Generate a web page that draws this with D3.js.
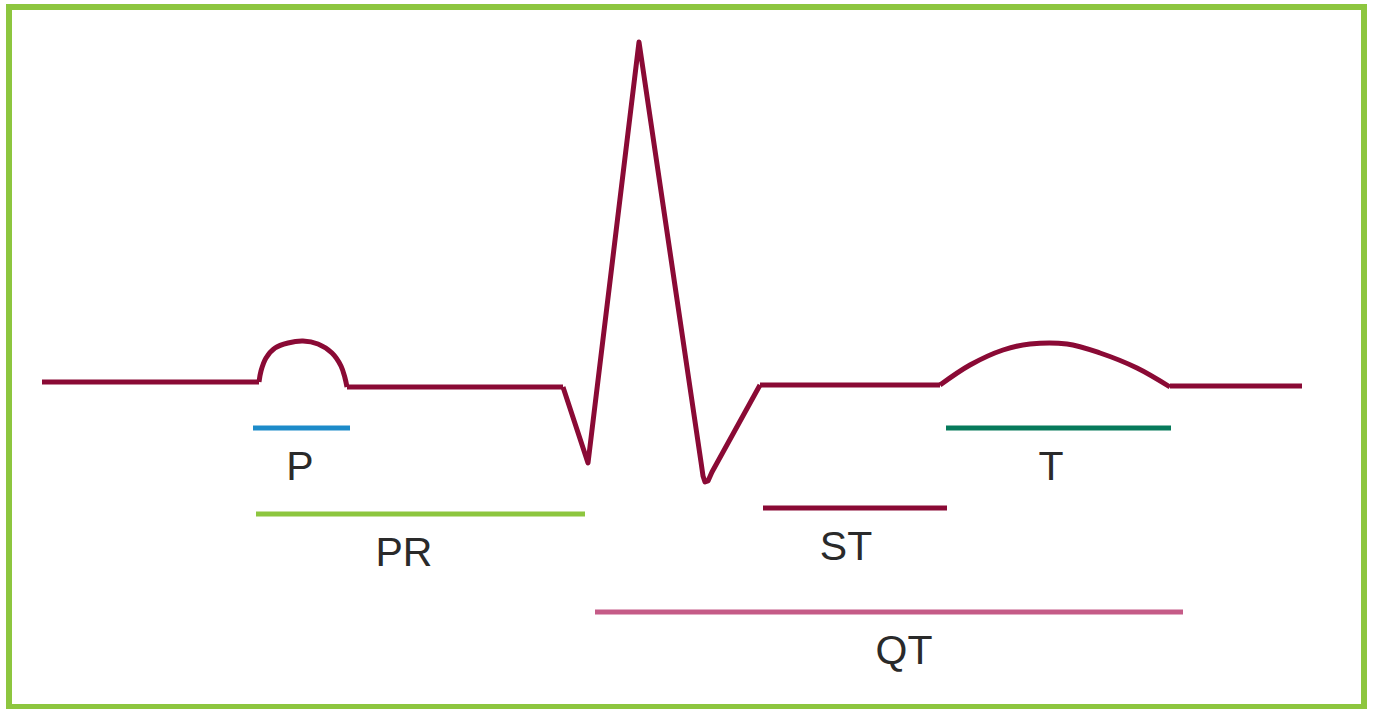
<!DOCTYPE html>
<html>
<head>
<meta charset="utf-8">
<script src="https://cdn.jsdelivr.net/npm/d3@7"></script>
<style>
  html, body { margin: 0; padding: 0; background: #fff; }
  svg { display: block; }
</style>
</head>
<body>
<svg id="chart" width="1373" height="709"></svg>
<script>
// ---- Data (time units along x, amplitude units above baseline) ----
const leadIn     = [[0, 3], [217, 3]];
const pWave      = [[217, 3], [219, 14], [224, 27], [233, 37], [246, 42], [261, 44], [276, 41], [290, 32], [299, 19], [303, 7], [305, -2]];
const prSegment  = [[305, -2], [521, -2]];
const qrsComplex = [[521, -2], [546, -78], [597, 343], [659, -77], [661, -91], [663, -97], [666, -96], [670, -87], [718, 0]];
const stSegment  = [[718, 0], [898, 0]];
const tWave      = [[898, 0], [928, 20], [961, 35], [988, 41], [1025, 41], [1058, 32], [1095, 17], [1128, -2]];
const tail       = [[1128, -1], [1260, -1]];

const intervalNames  = ["P", "PR", "T", "ST", "QT"];
const intervalStart  = [211, 214, 904, 721, 553];
const intervalEnd    = [308, 543, 1129, 905, 1141];
const intervalLevel  = [-43, -129, -43, -123, -227];
const labelCenter    = [258, 362, 1009, 804, 862];

// ---- Styles ----
const ecgColor = "#8a0a35";
const intervalColors = ["#1d8bc9", "#8dc63f", "#067a5b", "#8a0a35", "#c55b87"];

const svg = d3.select("#chart");
const W = 1373, H = 709;

// border
svg.append("rect")
  .attr("x", 9).attr("y", 7)
  .attr("width", W - 18).attr("height", H - 9)
  .attr("fill", "#fff")
  .attr("stroke", "#8dc63f")
  .attr("stroke-width", 6);

const x = d3.scaleLinear().domain([0, 1260]).range([42, 1302]);
const y = d3.scaleLinear().domain([-100, 345]).range([485, 40]);

const lineLin = d3.line().x(d => x(d[0])).y(d => y(d[1])).curve(d3.curveLinear);
const lineSmooth = d3.line().x(d => x(d[0])).y(d => y(d[1])).curve(d3.curveCatmullRom.alpha(0.5));

const g = svg.append("g");

// intervals
intervalNames.forEach((name, i) => {
  g.append("line")
    .attr("x1", x(intervalStart[i])).attr("x2", x(intervalEnd[i]))
    .attr("y1", y(intervalLevel[i])).attr("y2", y(intervalLevel[i]))
    .attr("stroke", intervalColors[i])
    .attr("stroke-width", 5);
  g.append("text")
    .attr("x", x(labelCenter[i]))
    .attr("y", y(intervalLevel[i]) + 52)
    .attr("text-anchor", "middle")
    .attr("font-family", "'Liberation Sans', Arial, sans-serif")
    .attr("font-size", 41)
    .attr("fill", "#2a2a2a")
    .text(name);
});

// ECG trace
const pieces = [
  [leadIn, lineLin], [pWave, lineSmooth], [prSegment, lineLin],
  [qrsComplex, lineLin], [stSegment, lineLin], [tWave, lineSmooth], [tail, lineLin]
];
pieces.forEach(([data, gen]) => {
  g.append("path")
    .attr("d", gen(data))
    .attr("fill", "none")
    .attr("stroke", ecgColor)
    .attr("stroke-width", 5)
    .attr("stroke-linejoin", "round")
    .attr("stroke-linecap", "butt");
});
</script>
</body>
</html>
